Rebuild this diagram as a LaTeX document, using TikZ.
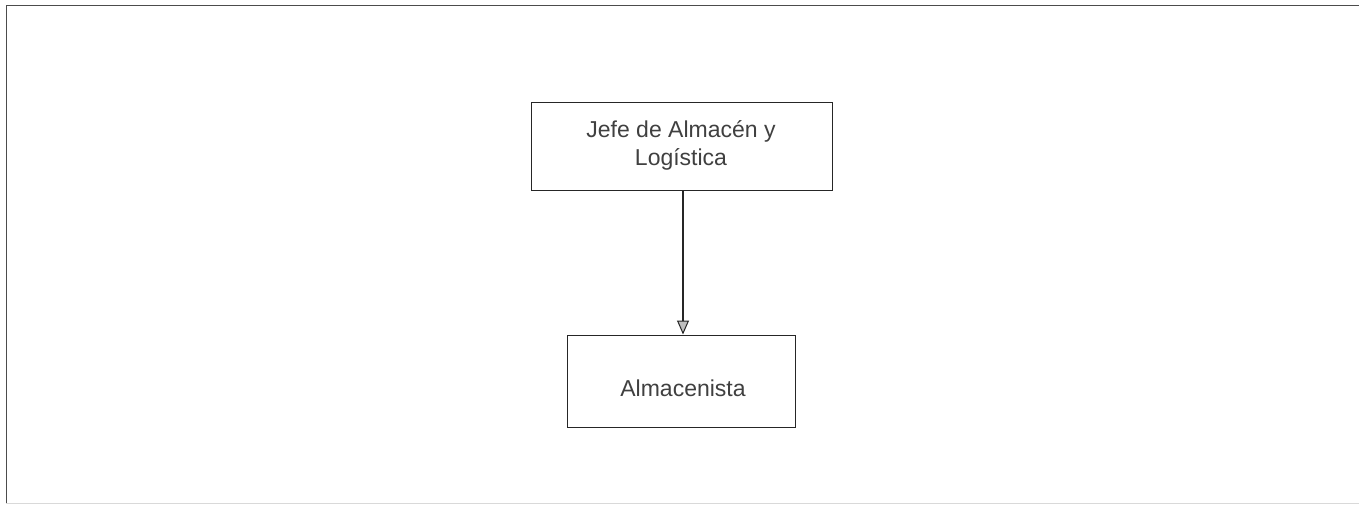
\documentclass[tikz,border=0pt]{standalone}
\usepackage{fontspec}
\setmainfont{Liberation Sans}
\usetikzlibrary{arrows.meta}
\begin{document}
\begin{tikzpicture}[x=1pt,y=-1pt,
  box/.style={draw=black!85, line width=1pt, fill=white, inner sep=0pt},
  txt/.style={inner sep=0pt, font=\fontsize{23}{28}\selectfont, text=black!75, align=center},
  conn/.style={draw=black!85, line width=1.3pt,
    -{Triangle[open, fill=black!25, length=14pt, width=12pt, line width=1pt]}}]
\useasboundingbox (0,0) rectangle (1359,504);
\fill[white] (0,0) rectangle (1359,504);
\draw[black!70, line width=1pt] (6,503) -- (6,5) -- (1359,5);
\draw[black!15, line width=1pt] (6,503) -- (1359,503);
\node[box, minimum width=301pt, minimum height=88pt] (jefe) at (681.5,146.5) {};
\node[txt] (jefet) at (681,145) {Jefe de Almacén y\\Logística};
\node[box, minimum width=228pt, minimum height=92pt] (alm) at (681,381) {};
\node[txt] (almt) at (683,388) {Almacenista};
\draw[conn] (jefe.south -| 683,0) -- (alm.north -| 683,0);
\end{tikzpicture}
\end{document}
